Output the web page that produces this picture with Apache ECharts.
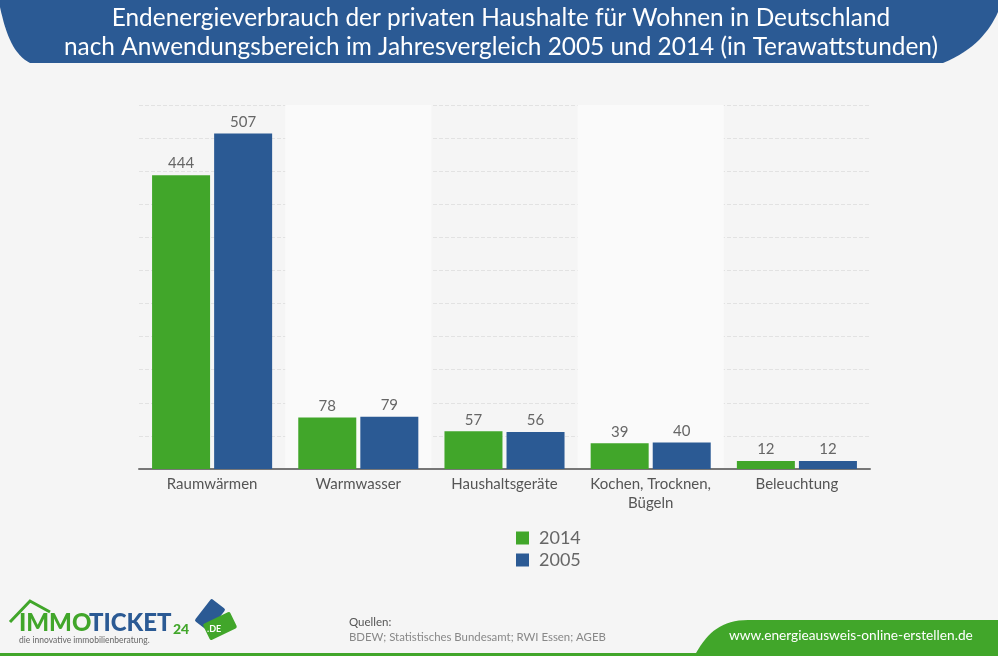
<!DOCTYPE html>
<html>
<head>
    <meta charset="UTF-8">
    <title>Endenergieverbrauch der privaten Haushalte</title>
    <script src="https://cdn.jsdelivr.net/npm/echarts/dist/echarts.min.js"></script>
    <style>html, body { margin: 0; padding: 0; background: #f5f5f5; }</style>
</head>
<body>
    <div id="chart" style="width: 998px; height: 656px;"></div>

    <script type="text/javascript">
        // Daten
        var categories = ['Raumwärmen', 'Warmwasser', 'Haushaltsgeräte', 'Kochen, Trocknen,\nBügeln', 'Beleuchtung'];
        var values2014 = [444, 78, 57, 39, 12];
        var values2005 = [507, 79, 56, 40, 12];
        var seriesNames = ['2014', '2005'];

        var green = '#41a62a';
        var blue = '#2b5a94';
        var font = 'Lato';

        // geschwungene Flächen für Kopfband und Fussleiste
        echarts.graphic.registerShape('headerBand', echarts.graphic.extendPath('M0 0 L0 7 C6 35 14 55 30 63 L943 63 C975 50 990 30 998 12 L998 0 Z', {}));
        echarts.graphic.registerShape('footerTab', echarts.graphic.extendPath('M696 653 C708 632 722 620 748 620 L998 620 L998 653 Z', {}));

        var myChart = echarts.init(document.getElementById('chart'));

        function barSeries(name, data, color) {
            return {
                name: name,
                type: 'bar',
                data: data,
                barWidth: 58,
                barGap: '7%',
                itemStyle: { color: color },
                label: {
                    show: true,
                    position: 'top',
                    distance: 4,
                    color: '#666',
                    fontFamily: font,
                    fontSize: 15
                }
            };
        }

        var option = {
            backgroundColor: '#f5f5f5',
            animation: false,
            title: {
                text: 'Endenergieverbrauch der privaten Haushalte für Wohnen in Deutschland\nnach Anwendungsbereich im Jahresvergleich 2005 und 2014 (in Terawattstunden)',
                left: 496,
                top: -1,
                textAlign: 'center',
                textStyle: {
                    color: '#fff',
                    fontFamily: font,
                    fontWeight: 'normal',
                    fontSize: 24.4,
                    lineHeight: 29
                }
            },
            grid: { left: 139, right: 128, top: 105, bottom: 187 },
            legend: {
                orient: 'vertical',
                left: 511,
                top: 524,
                icon: 'rect',
                itemWidth: 13,
                itemHeight: 13,
                itemGap: 4,
                data: seriesNames,
                textStyle: { color: '#666', fontFamily: font, fontSize: 18, padding: [0, 0, 0, 5] }
            },
            xAxis: {
                type: 'category',
                data: categories,
                axisTick: { show: false },
                axisLine: { lineStyle: { color: '#777', width: 2 } },
                axisLabel: { interval: 0, color: '#555', fontFamily: font, fontSize: 15, margin: 6, lineHeight: 19 },
                splitArea: { show: true, interval: 0, areaStyle: { color: ['rgba(0,0,0,0)', '#fafafa'] } }
            },
            yAxis: {
                type: 'value',
                min: 0,
                max: 550,
                interval: 50,
                axisLabel: { show: false },
                axisLine: { show: false },
                axisTick: { show: false },
                splitLine: { lineStyle: { color: '#e2e2e2', type: 'dashed' } }
            },
            series: [
                barSeries(seriesNames[0], values2014, green),
                barSeries(seriesNames[1], values2005, blue)
            ],
            graphic: [
                { type: 'headerBand', z: 0, style: { fill: blue } },
                { type: 'rect', z: 0, shape: { x: 0, y: 653, width: 998, height: 3 }, style: { fill: green } },
                { type: 'footerTab', z: 0, style: { fill: green } },
                { type: 'text', z: 5, style: { x: 729, y: 629, text: 'www.energieausweis-online-erstellen.de', fill: '#fff', font: '13.7px Lato' } },
                // Quellen
                { type: 'text', z: 5, style: { x: 349, y: 616, text: 'Quellen:', fill: '#555', font: '11.5px Lato' } },
                { type: 'text', z: 5, style: { x: 349, y: 632, text: 'BDEW; Statistisches Bundesamt; RWI Essen; AGEB', fill: '#888', font: '11.4px Lato' } },
                // Logo
                { type: 'polyline', z: 4, shape: { points: [[10, 622], [30, 601], [50, 612]] }, style: { stroke: green, lineWidth: 3, fill: 'none' } },
                { type: 'text', z: 5, style: { x: 19, y: 611, text: 'IMMO', fill: green, font: '900 24px Lato' } },
                { type: 'text', z: 5, style: { x: 89, y: 611, text: 'TICKET', fill: blue, font: '900 24px Lato' } },
                { type: 'text', z: 5, style: { x: 173, y: 622, text: '24', fill: green, font: '900 14px Lato' } },
                { type: 'text', z: 5, style: { x: 19, y: 636, text: 'die innovative immobilienberatung.', fill: '#666', font: '8.5px Lato' } },
                { type: 'rect', z: 4, x: 210, y: 615, rotation: 0.91, shape: { x: -14, y: -9, width: 28, height: 18, r: 2 }, style: { fill: blue } },
                { type: 'rect', z: 5, x: 220, y: 626, rotation: 0.45, shape: { x: -15, y: -9, width: 30, height: 18, r: 2 }, style: { fill: green } },
                { type: 'text', z: 6, style: { x: 207, y: 625, text: '.DE', fill: '#fff', font: 'bold 9px Lato' } }
            ]
        };

        myChart.setOption(option);
    </script>
</body>
</html>
